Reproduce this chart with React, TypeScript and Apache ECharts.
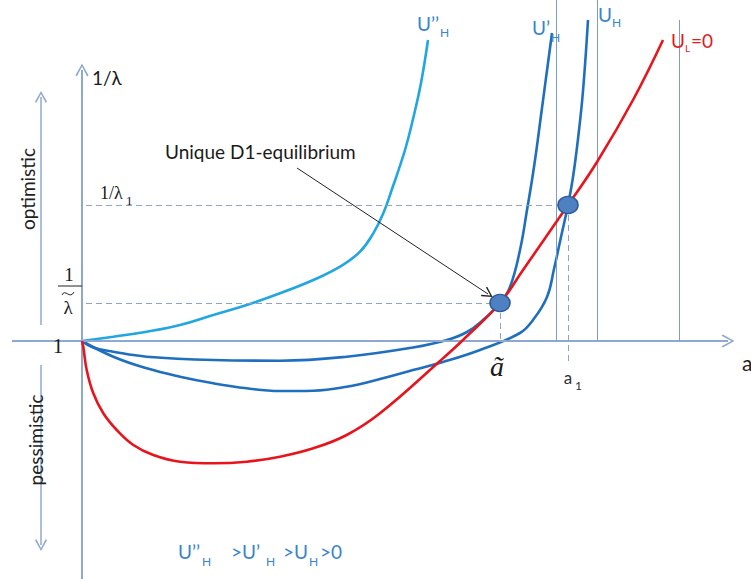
import React, { useEffect, useRef } from "react";
import * as echarts from "echarts";

// Curves: [a, 1/λ]
const curveUL: [number, number][] = [
  [0, 1.0], [0.013, 0.943], [0.047, 0.71], [0.113, 0.477], [0.213, 0.277], [0.347, 0.11],
  [0.513, -0.04], [0.713, -0.14], [0.98, -0.207], [1.313, -0.223], [1.647, -0.207],
  [1.98, -0.157], [2.313, -0.073], [2.647, 0.06], [2.98, 0.277], [3.58, 0.8],
  [3.82, 1.02], [4.18, 1.38], [4.41, 1.71], [4.86, 2.36], [5.15, 2.79], [5.51, 3.41],
  [5.81, 4.01],
];
const curveU1H: [number, number][] = [
  [0, 1.0], [0.11, 0.935], [0.313, 0.893], [0.647, 0.843], [1.313, 0.81], [1.98, 0.803],
  [2.647, 0.843], [3.31, 0.935], [3.65, 1.01], [3.85, 1.09], [4.01, 1.21], [4.18, 1.38],
  [4.28, 1.54], [4.38, 1.91], [4.45, 2.31], [4.52, 2.74], [4.6, 3.33], [4.7, 4.08],
];
const curveUH: [number, number][] = [
  [0, 1.0], [0.313, 0.843], [0.647, 0.727], [0.98, 0.643], [1.313, 0.577], [1.647, 0.527],
  [1.98, 0.5], [2.313, 0.503], [2.647, 0.543], [2.98, 0.62], [3.31, 0.71], [3.61, 0.79],
  [3.98, 0.91], [4.38, 1.08], [4.51, 1.21], [4.65, 1.44], [4.72, 1.72], [4.79, 2.04],
  [4.86, 2.36], [4.91, 2.64], [4.96, 3.02], [5.01, 3.5], [5.06, 4.21],
];
const curveU2H: [number, number][] = [
  [0, 1.0], [0.313, 1.043], [0.647, 1.093], [0.98, 1.16], [1.313, 1.26], [1.647, 1.36],
  [1.98, 1.477], [2.313, 1.61], [2.58, 1.743], [2.78, 1.893], [2.913, 2.077], [3.013, 2.277],
  [3.097, 2.51], [3.23, 2.91], [3.31, 3.22], [3.39, 3.58], [3.46, 4.01],
];

const eqTilde: [number, number] = [4.18, 1.38];
const eqA1: [number, number] = [4.86, 2.36];
const asymptoteX = [4.74, 5.15, 5.97];
const asymptoteTop = [4.41, 4.41, 4.21];

const xRange = [-0.82, 6.69];
const yRange = [-1.38, 4.41];
const xAxisSpan = [-0.7, 6.46];
const yAxisSpan = [-1.38, 3.71];
const optimisticSpan = [1.16, 3.44];
const pessimisticSpan = [0.76, -1.04];
const sideArrowX = -0.41;
const pointerFrom: [number, number] = [2.15, 2.73];
const pointerTo: [number, number] = [4.06, 1.47];

const CHEVRON = "path://M5,0 L10,9 L9,10 L5,2.4 L1,10 L0,9 Z";
const AXIS_COLOR = "#8ea8d2";
const GUIDE_COLOR = "#7f9bc8";
const DASH_COLOR = "#8fa3c8";
const LABEL_BLUE = "#3a84c9";
const SANS = "Lato, 'Noto Sans', sans-serif";
const SERIF = "'Liberation Serif', 'DejaVu Serif', serif";

function seg(a: number[], b: number[], style: any, end: string = "none", size = 12) {
  return [
    { coord: a, symbol: "none", lineStyle: style },
    { coord: b, symbol: end, symbolSize: size },
  ];
}

function txt(
  text: string, x: number, y: number, size: number,
  opt: { fill?: string; family?: string; italic?: boolean; align?: string; rotation?: number } = {}
) {
  const align = opt.align ?? "left";
  return {
    type: "text",
    x, y,
    rotation: opt.rotation ?? 0,
    silent: true,
    z: 100,
    style: {
      text,
      fontSize: size,
      fontFamily: opt.family ?? SANS,
      fontStyle: opt.italic ? "italic" : "normal",
      fill: opt.fill ?? "#1a1a1a",
      textAlign: align,
      textVerticalAlign: "middle",
      align,
      verticalAlign: "middle",
    },
  };
}

export default function App() {
  const ref = useRef<HTMLDivElement>(null);
  useEffect(() => {
    const chart = echarts.init(ref.current!, null, { renderer: "svg" });
    const axisStyle = { color: AXIS_COLOR, width: 2, type: "solid" };
    const guideStyle = { color: GUIDE_COLOR, width: 1, type: "solid" };
    const dashStyle = { color: DASH_COLOR, width: 1, type: [6, 4] };
    const markData: any[] = [
      seg([xAxisSpan[0], 1], [xAxisSpan[1], 1], axisStyle, CHEVRON, 13),
      seg([0, yAxisSpan[0]], [0, yAxisSpan[1]], axisStyle, CHEVRON, 13),
      seg([sideArrowX, optimisticSpan[0]], [sideArrowX, optimisticSpan[1]], { ...axisStyle, width: 1.5 }, CHEVRON, 12),
      seg([sideArrowX, pessimisticSpan[0]], [sideArrowX, pessimisticSpan[1]], { ...axisStyle, width: 1.5 }, CHEVRON, 12),
      ...asymptoteX.map((x, i) => seg([x, 1], [x, asymptoteTop[i]], guideStyle)),
      seg([0.04, eqTilde[1]], eqTilde, dashStyle),
      seg([0.04, eqA1[1]], eqA1, dashStyle),
      seg(eqTilde, [eqTilde[0], 1], dashStyle),
      seg(eqA1, [eqA1[0], 0.78], dashStyle),
      seg(pointerFrom, pointerTo, { color: "#222", width: 1, type: "solid" }, CHEVRON, 11),
    ];

    const curve = (name: string, data: [number, number][], color: string, z: number) => ({
      name,
      type: "line",
      data,
      showSymbol: false,
      smooth: 0.42,
      z,
      silent: true,
      lineStyle: { color, width: 2.6 },
      emphasis: { disabled: true },
    });

    chart.setOption({
      animation: false,
      backgroundColor: "#fff",
      grid: { left: 0, right: 0, top: 0, bottom: 0 },
      xAxis: { type: "value", min: xRange[0], max: xRange[1], show: false },
      yAxis: { type: "value", min: yRange[0], max: yRange[1], show: false },
      series: [
        {
          name: "guides",
          type: "line",
          data: [],
          z: 1,
          markLine: {
            silent: true,
            animation: false,
            label: { show: false },
            emphasis: { disabled: true },
            symbol: ["none", "none"],
            data: markData,
          },
        },
        curve("U''H", curveU2H, "#22a6e0", 3),
        curve("U'H", curveU1H, "#1f6fbe", 4),
        curve("UH", curveUH, "#1f6fbe", 4),
        curve("UL=0", curveUL, "#e8141c", 5),
        {
          name: "equilibria",
          type: "scatter",
          data: [eqTilde, eqA1],
          symbol: "circle",
          symbolSize: [20, 17],
          z: 10,
          silent: true,
          itemStyle: { color: "#4f80c2", borderColor: "#2d5a98", borderWidth: 1.5, opacity: 1 },
        },
      ],
      graphic: [
        txt("1/λ", 92, 77, 19),
        txt("Unique D1-equilibrium", 165, 151, 19),
        txt("optimistic", 27, 189, 19, { align: "center", rotation: Math.PI / 2, fill: "#222" }),
        txt("pessimistic", 35, 440, 19, { align: "center", rotation: Math.PI / 2, fill: "#222" }),
        txt("1", 58, 346, 21, { family: SERIF, align: "center" }),
        txt("1/λ", 100, 193, 18, { family: SERIF }),
        txt("1", 126, 200, 13, { family: SERIF }),
        txt("1", 69, 274, 19, { family: SERIF, align: "center" }),
        {
          type: "line",
          silent: true,
          z: 100,
          shape: { x1: 58, y1: 286, x2: 82, y2: 286 },
          style: { stroke: "#222", lineWidth: 1 },
        },
        {
          type: "bezierCurve",
          silent: true,
          z: 100,
          shape: { x1: 62, y1: 295, cpx1: 65, cpy1: 288, cpx2: 70, cpy2: 300, x2: 74, y2: 292 },
          style: { stroke: "#222", lineWidth: 1, fill: "none" },
        },
        txt("λ", 68, 307, 19, { family: SERIF, align: "center" }),
        txt("ã", 497, 366, 28, { family: SERIF, italic: true, align: "center" }),
        txt("a", 568, 377, 17, { align: "center", fill: "#333" }),
        txt("1", 575, 385, 12, { fill: "#333" }),
        txt("a", 742, 362, 21, { fill: "#222" }),
        txt("U’’", 417, 23, 19, { fill: LABEL_BLUE }),
        txt("H", 440, 32, 12, { fill: LABEL_BLUE }),
        txt("U’", 532, 27, 19, { fill: LABEL_BLUE }),
        txt("H", 551, 37, 12, { fill: LABEL_BLUE }),
        txt("U", 598, 14, 19, { fill: LABEL_BLUE }),
        txt("H", 612, 22, 12, { fill: LABEL_BLUE }),
        txt("U", 671, 40, 19, { fill: "#e31a1c" }),
        txt("L", 685, 48, 10, { fill: "#e31a1c" }),
        txt("=0", 691, 40, 19, { fill: "#e31a1c" }),
        txt("U’’", 178, 551, 19, { fill: LABEL_BLUE }),
        txt("H", 202, 561, 12, { fill: LABEL_BLUE }),
        txt(">U’", 231, 551, 19, { fill: LABEL_BLUE }),
        txt("H", 266, 561, 12, { fill: LABEL_BLUE }),
        txt(">U", 283, 551, 19, { fill: LABEL_BLUE }),
        txt("H", 309, 561, 12, { fill: LABEL_BLUE }),
        txt(">0", 320, 551, 19, { fill: LABEL_BLUE }),
      ],
    });
    return () => chart.dispose();
  }, []);
  return (
    <div
      ref={ref}
      style={{ position: "absolute", left: 0, top: 0, width: 751, height: 579, background: "#fff" }}
    />
  );
}
